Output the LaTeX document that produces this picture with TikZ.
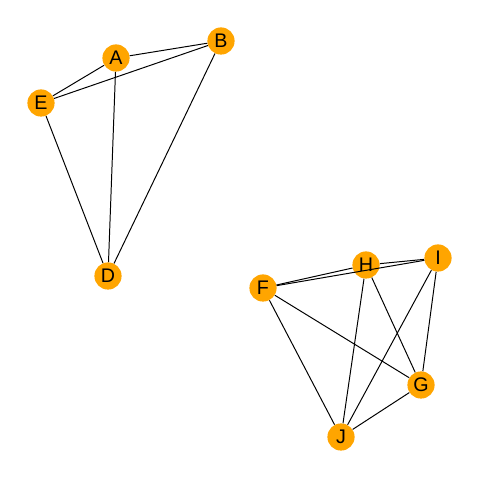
\documentclass[tikz,border=0pt]{standalone}
\usepackage{fontspec}
\setmainfont{Liberation Sans}
\usepackage{xcolor}
\usetikzlibrary{positioning}
\definecolor{vertexorange}{HTML}{FFA500}

\begin{document}
\begin{tikzpicture}[
    vertex/.style={circle, fill=vertexorange, draw=none, minimum size=0.68cm,
        inner sep=0pt, font=\fontsize{14}{14}\selectfont},
    edge/.style={line width=0.7pt, black}
]
    \useasboundingbox (0,0) rectangle (12,12);

    % first component
    \node[vertex] (a) at (2.9, 10.55) {A};
    \node[vertex] (b) at (5.525, 10.975) {B};
    \node[vertex] (e) at (1.025, 9.425) {E};
    \node[vertex] (d) at (2.7, 5.1) {D};

    % second component
    \node[vertex] (h) at (9.15, 5.375) {H};
    \node[vertex] (i) at (10.95, 5.55) {I};
    \node[vertex] (f) at (6.575, 4.8) {F};
    \node[vertex] (g) at (10.525, 2.375) {G};
    \node[vertex] (j) at (8.525, 1.075) {J};

    % edges
    \begin{scope}[on background layer/.try]
    \foreach \u/\v in {a/b, a/e, a/d, e/b, e/d, b/d,
                       f/h, f/i, f/g, f/j, h/i, h/g, h/j, i/g, i/j, g/j}
        \draw[edge] (\u) -- (\v);
    \end{scope}
\end{tikzpicture}
\end{document}
